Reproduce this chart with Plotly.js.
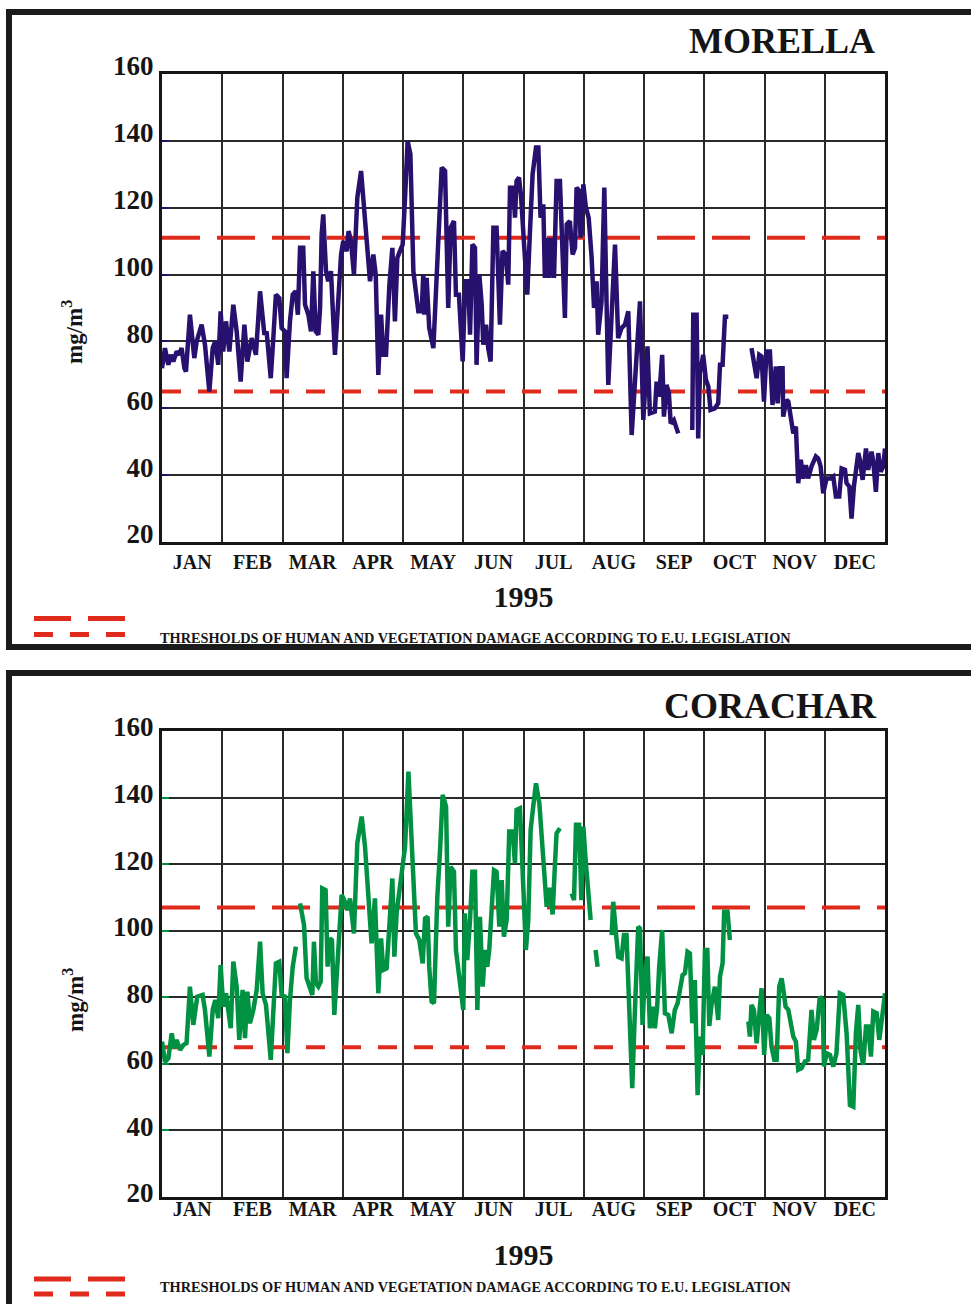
<!DOCTYPE html>
<html>
<head>
<meta charset="utf-8">
<script src="https://cdn.plot.ly/plotly-3.0.1.min.js"></script>
<style>
  html, body { margin: 0; padding: 0; background: #ffffff; }
  #chart { width: 971px; height: 1304px; }
</style>
</head>
<body>
<div id="chart"></div>
<script>
// ---------------- DATA ----------------
const months = ['JAN','FEB','MAR','APR','MAY','JUN','JUL','AUG','SEP','OCT','NOV','DEC'];
const yearLabel = '1995';
const yTicks = [20, 40, 60, 80, 100, 120, 140, 160];
const legendText = 'THRESHOLDS OF HUMAN AND VEGETATION DAMAGE ACCORDING TO E.U. LEGISLATION';

// MORELLA station: day of year and concentration (mg/m3); null = missing data
const morellaDay = [0,1.5,3.2,4.4,5.7,7.4,8.7,9.9,11.3,12.1,14.1,16.3,17.5,20.0,21.7,23.9,25.6,26.9,28.4,29.6,30.9,32.3,34.0,36.0,37.7,39.7,41.6,43.1,45.3,47.4,49.5,51.7,52.8,54.9,56.2,57.5,59.2,60.4,62.1,62.9,64.6,66.0,67.5,68.6,69.7,71.3,72.2,73.9,75.2,76.4,77.6,78.9,79.8,80.6,81.4,82.8,83.9,85.3,87.3,89.0,90.4,91.5,93.2,94.2,95.4,96.9,98.6,100.5,101.6,105.0,106.7,107.9,109.2,110.6,111.7,113.1,114.8,116.3,117.6,118.8,120.1,121.5,122.7,124.0,125.4,126.9,129.4,131.1,131.9,132.4,133.6,134.9,137.0,139.0,141.2,142.9,144.5,145.7,147.4,148.4,149.9,151.8,153.1,154.6,155.5,156.7,158.0,158.8,160.2,161.4,162.2,163.6,164.7,165.9,167.3,168.9,170.6,171.9,173.5,174.8,175.7,177.3,178.2,179.0,180.2,181.2,183.2,184.4,185.7,187.1,188.8,190.0,191.1,192.5,193.3,194.5,195.5,196.7,197.9,199.2,200.9,202.2,203.4,204.3,205.9,207.3,208.5,209.3,210.6,211.3,212.7,214.0,215.4,216.9,218.1,219.4,220.2,221.9,223.3,224.1,225.3,227.0,228.7,230.3,232.0,233.7,235.4,237.1,238.7,241.3,243.0,245.1,246.3,248.8,249.7,251.0,252.5,253.4,254.7,255.9,256.8,258.4,260.6,264,267.7,268.2,269.9,270.7,271.6,273.2,274.6,275.8,276.9,279.1,280.8,281.7,283.0,284.2,285.9,292,297.6,300.2,301.5,302.7,303.9,305.2,306.9,308.2,309.9,310.8,311.9,313.3,313.6,315.3,316.2,317.8,318.7,320.0,321.2,322.5,323.7,325.1,326.2,327.9,330.1,331.3,332.5,333.8,335.5,337.5,338.9,340.2,341.9,343.1,344.8,345.6,347.0,348.1,349.3,351.5,352.3,353.7,355.4,356.5,358.2,359.1,360.4,361.6,362.8,364.1,365];
const morellaO3 = [72,78,73,76,74,77,76,78,72,71,88,75,80,85,79,65,78,80,73,89,77,86,77,91,83,68,85,74,81,76,95,82,83,69,81,94,93,84,83,69,86,94,95,88,108,108,91,88,83,101,83,82,90,112,118,101,98,101,76,94,106,110,107,113,110,100,123,131,122,98,106,100,70,88,76,76,97,108,86,105,107,109,123,140,136,101,89,89,100,88,99,84,78,106,132,131,90,114,116,94,94,74,98,98,82,109,108,73,100,91,79,85,78,74,114,114,85,107,106,97,126,126,117,128,129,124,104,94,112,130,138,138,117,121,99,111,99,111,99,128,128,104,87,115,116,106,108,126,125,111,127,120,117,105,90,98,82,92,126,101,67,88,109,81,84,85,89,52,66,92,56.5,78.5,58.5,59,68,63.5,76,57.5,67,64.5,55.5,56.5,52.5,null,53.5,88,88,51,70.5,76,68.5,66.5,59.5,60,61.5,73,73,87.4,87.4,null,78,69,76,75.5,62,77,77,61,72.5,61.5,72,72,57.5,62.5,62,57,52.5,54.5,37.6,44.6,39,43,39,42.6,45.6,45,42.6,34.6,39,39,39.6,33.6,33.6,42,41.6,37.6,36.6,27,36.6,46.6,44.6,38.6,48,41.6,47,44,35,46.6,41,42.6,48];

// CORACHAR station
const coracharDay = [0,1.5,3.2,4.9,6.1,7.4,9.1,10.8,12.4,13.3,14.1,15.8,17.8,20.5,21.7,23.9,25.6,26.9,28.4,29.6,30.9,32.3,34.7,36.0,37.7,39.0,40.7,41.9,43.1,44.4,46.1,47.8,49.5,50.8,52.5,54.9,56.2,57.5,59.2,60.4,62.1,63.3,64.6,66.0,67.6,68.6,69.7,71.7,73.0,74.4,75.9,76.7,77.7,78.9,80.1,80.9,82.6,83.6,84.8,85.8,87.0,89.0,90.7,92.0,93.6,94.9,96.9,98.6,100.8,102.5,104.2,105.8,107.5,109.2,110.6,111.7,113.4,114.8,116.3,117.3,118.5,119.8,121.3,122.7,124.4,125.5,126.9,128.2,129.9,131.6,132.8,134.1,134.9,136.1,137.3,139.0,140.3,141.7,143.4,144.5,145.7,147.4,148.4,150.4,152.1,152.9,154.1,155.5,156.7,158.0,159.2,160.5,161.9,163.1,164.2,165.2,166.4,167.6,168.9,170.3,171.5,172.6,174.0,175.3,177.0,178.2,179.0,180.7,182.4,183.7,184.9,186.1,187.4,188.8,190.5,192.2,194.2,195.8,197.2,198.4,199.2,200.9,204,206.8,208.0,209.0,210.6,211.7,212.7,214.0,215.2,216.4,217.5,218.9,219.9,223,227.0,227.8,229.2,230.3,232.0,233.2,234.5,235.9,237.4,238.7,240.4,241.3,242.6,243.8,245.1,246.3,247.7,248.8,250.0,251.0,252.5,253.9,255.6,257.3,258.9,260.3,261.5,262.8,264.0,265.3,266.5,267.7,269.0,270.4,271.6,272.9,274.1,275.3,276.3,277.4,279.1,280.8,281.7,283.0,283.8,285.5,286.7,291,296.0,296.8,297.6,298.8,300.2,301.5,302.7,304.0,305.2,306.6,307.7,309.1,310.3,311.6,312.8,313.6,314.8,316.2,317.5,318.7,320.0,321.2,322.9,324.6,326.2,327.9,329.1,330.5,332.1,333.5,334.2,335.5,337.2,338.9,340.5,342.2,343.9,345.6,347.3,349.0,350.3,351.5,352.7,354.0,355.4,356.5,357.9,359.1,360.8,362.1,363.8,365];
const coracharO3 = [66.7,60.6,61.7,69.2,64.7,67.2,64.2,65.7,66.2,78.2,83.2,71.7,80.2,80.7,76.2,62.2,76.2,79.2,73.7,89.7,77.2,81.2,70.7,90.7,83.2,67.2,82.2,67.7,81.7,72.2,76.2,82.2,96.7,81.2,77.7,61.2,75.2,90.2,90.7,80.7,80.2,63.2,79.2,89.2,95.2,null,108.2,101.7,85.8,83.7,80.7,96.7,84.2,83.2,84.7,112.7,112.2,89.2,97.7,97.2,74.7,94.2,110.8,109.2,106.2,109.7,99.2,126.3,134.3,125.2,107.2,96.2,109.7,81.2,97.7,88.2,88.7,102.2,115.7,92.2,105.7,111.7,119.2,125.2,147.8,133.3,110.7,99.2,97.2,90.2,103.7,104.2,89.2,78.7,78.2,110.2,123.3,140.8,137.3,101.2,119.2,117.7,94.2,83.2,76.2,105.2,91.2,103.2,117.7,117.7,76.2,104.2,83.2,94.2,89.2,94.2,104.2,118.2,117.7,101.2,115.2,98.2,103.2,129.8,129.8,120.2,136.3,136.8,113.2,94.2,103.2,130.3,137.3,144.3,138.3,124.3,107.2,112.9,104.9,120.2,129.3,130.8,null,111.2,109.2,131.8,131.8,109.2,131.3,120.2,111.2,103.2,null,94.2,89.2,null,98.7,108.7,99.2,92.2,91.7,98.7,98.7,73.2,52.7,75.2,101.2,100.7,71.7,87.2,92.2,70.7,77.2,70.7,77.2,89.2,100.2,75.2,74.7,69.2,76.2,78.2,82.2,86.7,87.2,93.7,93.2,72.2,85.2,50.6,68.2,62.7,94.2,94.2,71.4,77.7,83.2,73.2,86.2,90.2,105.7,105.7,97.2,null,72.7,68.2,77.7,76.2,66.2,76.2,82.7,62.7,74.7,73.7,65.2,61.2,61.2,83.2,85.7,82.7,77.2,76.2,72.7,68.2,66.7,58.2,58.7,60.7,61.2,76.2,67.2,70.2,80.2,79.2,59.2,63.2,62.7,59.2,63.2,81.2,80.7,69.2,47.6,47.1,69.2,77.7,63.7,59.7,71.2,71.2,62.2,75.7,75.2,67.2,75.2,81.2];

// EU thresholds as drawn on each panel (upper: human health, lower: vegetation)
const morellaThresholds = [111, 65];
const coracharThresholds = [107, 65];

// ---------------- STYLE / LAYOUT ----------------
const W = 971, H = 1304;
const px = x => x / W;
const py = y => 1 - y / H;
const SERIF = '"Liberation Serif", "DejaVu Serif", serif';
const NAVY = '#28106e';
const GREEN = '#009142';
const RED = '#e02a1c';
const DAYS = 365;
const monthCenters = months.map((m, i) => (i + 0.5) * DAYS / 12);
const monthBounds = months.slice(1).map((m, i) => (i + 1) * DAYS / 12);

function xAxis(anchor, standoffLabels, titleStandoff) {
  return {
    anchor: anchor,
    domain: [px(162), px(885)],
    range: [0, DAYS],
    tickmode: 'array',
    tickvals: monthCenters,
    ticktext: months,
    ticks: '',
    showgrid: false,
    minor: { tickmode: 'array', tickvals: monthBounds, showgrid: true, gridcolor: '#2a2a2a', gridwidth: 2, ticks: '' },
    showline: true, mirror: true, linecolor: '#161616', linewidth: 3,
    zeroline: false,
    ticklabelstandoff: standoffLabels,
    tickfont: { family: SERIF, size: 20, color: '#151515', weight: 'bold' },
    title: { text: yearLabel, standoff: titleStandoff, font: { family: SERIF, size: 30, color: '#151515', weight: 'bold' } },
    fixedrange: true
  };
}
function yAxis(yTop, yBot, anchor, color, shift) {
  return {
    domain: [py(yBot), py(yTop)],
    anchor: anchor,
    range: [20, 160],
    tickmode: 'array',
    tickvals: yTicks,
    ticktext: yTicks.map(String),
    ticks: 'inside', ticklen: 7, tickwidth: 2, tickcolor: color,
    showgrid: true, gridcolor: '#2a2a2a', gridwidth: 2,
    showline: true, mirror: true, linecolor: '#161616', linewidth: 3,
    zeroline: false,
    ticklabelshift: shift,
    ticklabelstandoff: 0,
    tickfont: { family: SERIF, size: 27, color: '#151515', weight: 'bold' },
    fixedrange: true
  };
}

function thresholdTraces(thr, xa, ya) {
  return [
    { x: [0, DAYS], y: [thr[0], thr[0]], xaxis: xa, yaxis: ya, mode: 'lines', hoverinfo: 'skip',
      line: { color: RED, width: 4, dash: '38px,17px' }, showlegend: false },
    { x: [0, DAYS], y: [thr[1], thr[1]], xaxis: xa, yaxis: ya, mode: 'lines', hoverinfo: 'skip',
      line: { color: RED, width: 4, dash: '19px,17px' }, showlegend: false }
  ];
}

const traces = [
  ...thresholdTraces(morellaThresholds, 'x', 'y'),
  { x: morellaDay, y: morellaO3, xaxis: 'x', yaxis: 'y', mode: 'lines', connectgaps: false,
    line: { color: NAVY, width: 4.5, shape: 'linear' }, name: 'MORELLA', showlegend: false },
  ...thresholdTraces(coracharThresholds, 'x2', 'y2'),
  { x: coracharDay, y: coracharO3, xaxis: 'x2', yaxis: 'y2', mode: 'lines', connectgaps: false,
    line: { color: GREEN, width: 4.5, shape: 'linear' }, name: 'CORACHAR', showlegend: false }
];

function frame(yTop, yBot) {
  return { type: 'rect', xref: 'paper', yref: 'paper', x0: px(9), x1: px(1000), y0: py(yBot), y1: py(yTop),
           line: { color: '#1b1b1b', width: 6 }, fillcolor: 'rgba(0,0,0,0)', layer: 'below' };
}
function legendDashes(yRow1, yRow2) {
  return [
    { type: 'line', xref: 'paper', yref: 'paper', x0: px(34), x1: px(125), y0: py(yRow1), y1: py(yRow1),
      line: { color: RED, width: 5, dash: '37px,17px' } },
    { type: 'line', xref: 'paper', yref: 'paper', x0: px(34), x1: px(125), y0: py(yRow2), y1: py(yRow2),
      line: { color: RED, width: 5, dash: '19px,17px' } }
  ];
}

const textFont = (size) => ({ family: SERIF, size: size, color: '#151515', weight: 'bold' });

const xa1 = xAxis('y', 0, 14);
const xa2 = xAxis('y2', -8, 25);

const layout = {
  width: W, height: H,
  margin: { l: 0, r: 0, t: 0, b: 0 },
  paper_bgcolor: '#ffffff', plot_bgcolor: '#ffffff',
  showlegend: false,
  xaxis: xa1,
  yaxis: yAxis(74, 542, 'x', NAVY, -8),
  xaxis2: xa2,
  yaxis2: yAxis(731, 1197, 'x2', GREEN, -4),
  shapes: [
    frame(12, 647),
    frame(673, 1340),
    ...legendDashes(618.5, 634.5),
    ...legendDashes(1279, 1294)
  ],
  annotations: [
    { text: 'MORELLA', xref: 'paper', yref: 'paper', x: px(877), y: py(41), xanchor: 'right', yanchor: 'middle',
      showarrow: false, font: textFont(36) },
    { text: 'CORACHAR', xref: 'paper', yref: 'paper', x: px(879), y: py(706), xanchor: 'right', yanchor: 'middle',
      showarrow: false, font: textFont(36) },
    { text: 'mg/m<sup>3</sup>', xref: 'paper', yref: 'paper', x: px(73), y: py(332), xanchor: 'center', yanchor: 'middle',
      textangle: -90, showarrow: false, font: textFont(23) },
    { text: 'mg/m<sup>3</sup>', xref: 'paper', yref: 'paper', x: px(73), y: py(1000), xanchor: 'center', yanchor: 'middle',
      textangle: -90, showarrow: false, font: textFont(23) },
    { text: legendText, xref: 'paper', yref: 'paper', x: px(158), y: py(638), xanchor: 'left', yanchor: 'middle',
      showarrow: false, font: textFont(14.3) },
    { text: legendText, xref: 'paper', yref: 'paper', x: px(158), y: py(1287), xanchor: 'left', yanchor: 'middle',
      showarrow: false, font: textFont(14.3) }
  ]
};

Plotly.newPlot('chart', traces, layout, { displayModeBar: false, staticPlot: true });
</script>
</body>
</html>
